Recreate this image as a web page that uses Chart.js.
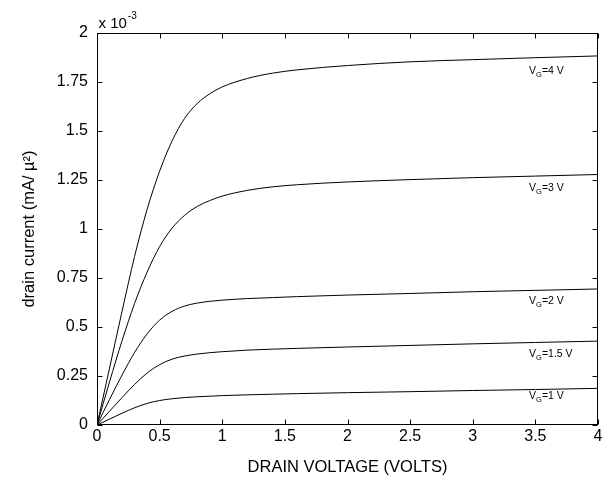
<!DOCTYPE html>
<html>
<head>
<meta charset="utf-8">
<script src="https://cdn.jsdelivr.net/npm/chart.js@4/dist/chart.umd.min.js"></script>
<style>
  html, body { margin: 0; padding: 0; background: #fff; }
  #wrap { width: 608px; height: 481px; }
</style>
</head>
<body>
<div id="wrap"><canvas id="chart"></canvas></div>
<script>
// drain voltage (V) samples
const drainVoltage = [0, 0.1, 0.2, 0.3, 0.4, 0.5, 0.6, 0.7, 0.8, 0.9, 1.0, 1.2, 1.4, 1.6, 2.0, 2.5, 3.0, 3.5, 4.0];

// drain current, in units of 1e-3 mA/µ²
const currentVg1 = [0, 0.03, 0.06, 0.088, 0.11, 0.125, 0.134, 0.14, 0.144, 0.147, 0.15, 0.154, 0.157, 0.16, 0.165, 0.17, 0.176, 0.181, 0.187];
const currentVg15 = [0, 0.07, 0.14, 0.207, 0.265, 0.308, 0.336, 0.352, 0.362, 0.369, 0.374, 0.382, 0.387, 0.391, 0.398, 0.406, 0.414, 0.421, 0.428];
const currentVg2 = [0, 0.13, 0.255, 0.37, 0.465, 0.535, 0.58, 0.607, 0.622, 0.631, 0.637, 0.645, 0.65, 0.655, 0.663, 0.671, 0.68, 0.687, 0.694];
const currentVg3 = [0, 0.22, 0.43, 0.62, 0.78, 0.91, 1.005, 1.07, 1.115, 1.145, 1.168, 1.197, 1.215, 1.226, 1.24, 1.252, 1.262, 1.27, 1.278];
const currentVg4 = [0, 0.29, 0.58, 0.86, 1.1, 1.295, 1.45, 1.565, 1.64, 1.69, 1.725, 1.768, 1.795, 1.812, 1.834, 1.853, 1.864, 1.874, 1.883];

const gateVoltages = ["1", "1.5", "2", "3", "4"];
const currents = [currentVg1, currentVg15, currentVg2, currentVg3, currentVg4];

const xTickStep = 0.5;
const yTickStep = 0.25;

const FONT = "'Liberation Sans', Arial, Helvetica, sans-serif";

// frame, inward ticks on all four sides, the exponent and the curve labels
const decorPlugin = {
  id: "decor",
  afterDraw(chart, args, opts) {
    const { ctx, chartArea: a } = chart;
    const xs = chart.scales.x;
    const ys = chart.scales.y;
    const L = Math.round(a.left) + 0.5, R = Math.round(a.right) - 0.5;
    const T = Math.round(a.top) + 0.5, B = Math.round(a.bottom) - 0.5;
    ctx.save();
    ctx.strokeStyle = "#000";
    ctx.lineWidth = 1;
    ctx.strokeRect(L, T, R - L, B - T);

    ctx.beginPath();
    xs.ticks.forEach((t) => {
      const px = Math.round(xs.getPixelForValue(t.value)) + 0.5;
      ctx.moveTo(px, B); ctx.lineTo(px, B - 5);
      ctx.moveTo(px, T); ctx.lineTo(px, T + 5);
    });
    ys.ticks.forEach((t) => {
      const py = Math.round(ys.getPixelForValue(t.value)) + 0.5;
      ctx.moveTo(L, py); ctx.lineTo(L + 5, py);
      ctx.moveTo(R, py); ctx.lineTo(R - 5, py);
    });
    ctx.stroke();

    // exponent above the y axis
    ctx.fillStyle = "#000";
    ctx.textBaseline = "alphabetic";
    ctx.font = "15px " + FONT;
    const base = "x 10";
    ctx.fillText(base, L + 1, 28);
    const w = ctx.measureText(base).width;
    ctx.font = "10px " + FONT;
    ctx.fillText("-3", L + 1 + w + 1, 19);

    // curve labels V_G=... V
    opts.labels.forEach((lab, i) => {
      let px = xs.getPixelForValue(lab.x);
      const py = ys.getPixelForValue(lab.y);
      ctx.textBaseline = "middle";
      ctx.font = "10.5px " + FONT;
      ctx.fillText("V", px, py);
      px += ctx.measureText("V").width;
      ctx.font = "7.5px " + FONT;
      ctx.fillText("G", px, py + 4);
      px += ctx.measureText("G").width;
      ctx.font = "10.5px " + FONT;
      ctx.fillText("=" + gateVoltages[i] + " V", px, py);
    });
    ctx.restore();
  },
};

const datasets = currents.map((vals, i) => ({
  label: "VG=" + gateVoltages[i] + " V",
  data: drainVoltage.map((v, k) => ({ x: v, y: vals[k] })),
  borderColor: "#000",
  borderWidth: 1,
  pointRadius: 0,
  fill: false,
  cubicInterpolationMode: "monotone",
}));

new Chart(document.getElementById("chart"), {
  type: "line",
  data: { datasets: datasets },
  plugins: [decorPlugin],
  options: {
    responsive: true,
    maintainAspectRatio: false,
    animation: false,
    layout: { padding: { left: 0, right: 10, top: 33, bottom: 0 } },
    plugins: {
      legend: { display: false },
      tooltip: { enabled: false },
      decor: {
        labels: [
          { x: 3.45, y: 0.148 },
          { x: 3.45, y: 0.362 },
          { x: 3.45, y: 0.633 },
          { x: 3.45, y: 1.209 },
          { x: 3.45, y: 1.804 },
        ],
      },
    },
    scales: {
      x: {
        type: "linear",
        min: 0,
        max: 4,
        afterFit: (scale) => { scale.height = 56; },
        grid: { display: false, drawTicks: false },
        border: { display: false },
        ticks: {
          stepSize: xTickStep,
          padding: 2,
          color: "#000",
          font: { family: FONT, size: 16 },
          callback: (v) => String(+v.toFixed(2)),
        },
        title: {
          display: true,
          text: "DRAIN VOLTAGE (VOLTS)",
          color: "#000",
          font: { family: FONT, size: 16.5 },
          padding: { top: 0, bottom: 4 },
        },
      },
      y: {
        min: 0,
        max: 2,
        afterFit: (scale) => { scale.width = 97; },
        grid: { display: false, drawTicks: false },
        border: { display: false },
        ticks: {
          stepSize: yTickStep,
          padding: 9,
          color: "#000",
          font: { family: FONT, size: 16 },
          callback: (v) => String(+v.toFixed(2)),
        },
        title: {
          display: true,
          text: "drain current (mA/ µ²)",
          color: "#000",
          font: { family: FONT, size: 16.5 },
          padding: { top: 20, bottom: 0 },
        },
      },
    },
  },
});
</script>
</body>
</html>
